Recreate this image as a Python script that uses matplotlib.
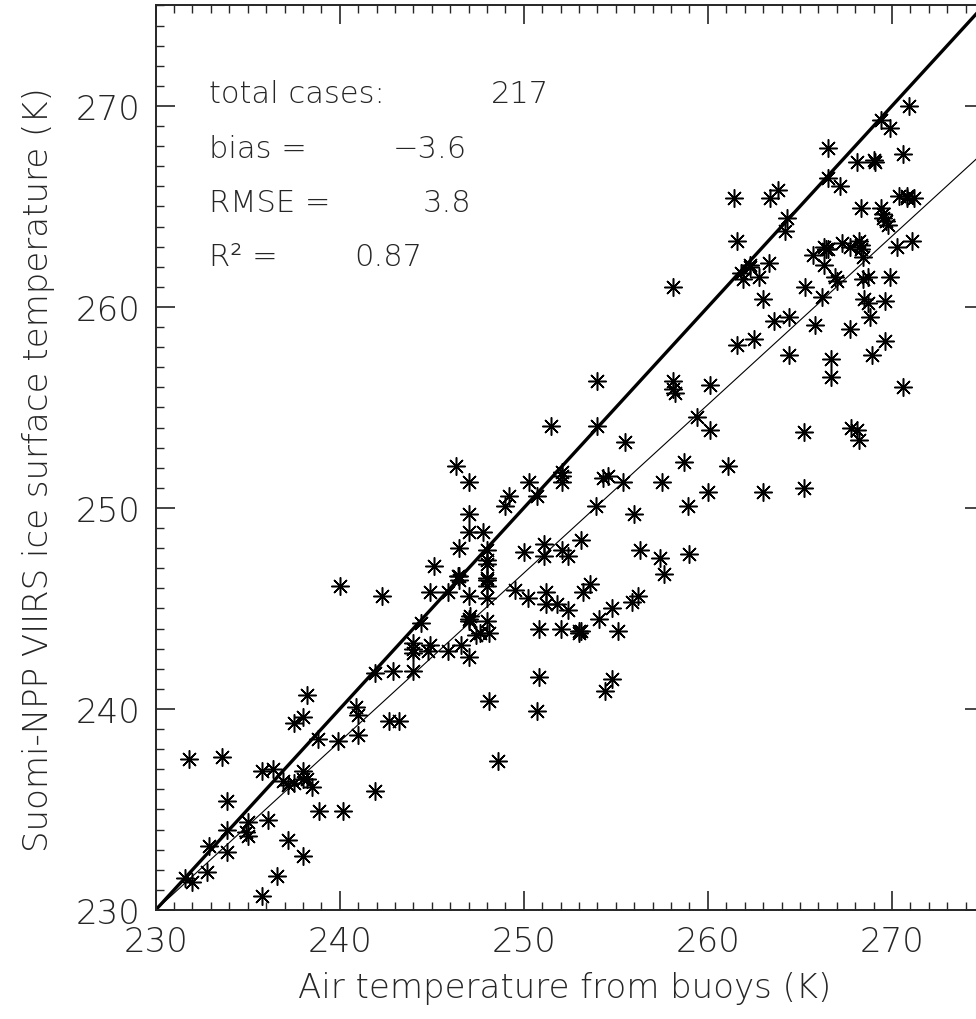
import numpy as np
import matplotlib
matplotlib.use("Agg")
import matplotlib.pyplot as plt
from matplotlib.ticker import MultipleLocator

# buoy air temperature (K) vs Suomi-NPP VIIRS ice surface temperature (K)
air_temp = [
    231.6, 232.0, 231.8, 232.8, 232.9, 233.6, 233.9, 233.9, 233.9, 234.9,
    235.0, 235.0, 235.8, 235.8, 236.1, 236.4, 236.6, 236.9, 237.2, 237.2,
    237.5, 237.5, 238.0, 238.0, 238.0, 238.0, 238.2, 238.2, 238.5, 238.8,
    238.9, 239.9, 240.0, 240.2, 240.9, 241.0, 241.0, 241.9, 241.9, 242.3,
    242.7, 242.9, 243.2, 244.0, 244.0, 244.0, 244.4, 244.8, 244.9, 244.9,
    245.1, 245.9, 245.9, 246.3, 246.4, 246.5, 246.5, 246.6, 247.0, 247.0,
    247.0, 247.0, 247.0, 247.0, 247.1, 247.4, 247.8, 247.6, 248.1, 248.0,
    248.0, 248.0, 248.0, 248.0, 248.0, 248.1, 249.0, 249.2, 250.7, 250.3,
    248.6, 249.5, 250.0, 250.2, 250.7, 250.8, 250.8, 251.1, 251.1, 251.2,
    251.2, 251.5, 251.8, 252.0, 252.1, 252.1, 252.1, 252.1, 252.4, 252.4,
    253.0, 253.1, 253.1, 253.2, 253.6, 253.9, 254.0, 254.0, 254.1, 254.3,
    254.6, 254.4, 254.8, 254.8, 255.1, 255.4, 255.5, 255.9, 256.2, 256.0,
    256.3, 257.4, 257.6, 257.5, 258.1, 258.1, 258.1, 258.2, 258.7, 258.9,
    259.0, 259.4, 260.0, 260.1, 260.1, 261.1, 261.4, 261.6, 261.6, 261.8,
    261.9, 262.3, 262.5, 262.8, 263.0, 263.0, 263.3, 263.4, 263.8, 263.6,
    264.3, 264.2, 264.4, 264.4, 265.2, 265.2, 265.3, 265.7, 265.8, 266.2,
    266.3, 266.5, 266.3, 266.5, 266.5, 267.2, 266.7, 266.7, 266.9, 267.0,
    267.3, 267.7, 268.2, 267.7, 267.8, 268.1, 268.2, 268.1, 268.3, 268.3,
    268.4, 268.4, 268.7, 268.5, 268.7, 268.8, 269.0, 269.1, 268.9, 269.4,
    269.4, 269.5, 269.7, 269.8, 269.6, 269.6, 269.9, 269.9, 270.3, 270.4,
    270.6, 270.6, 270.8, 270.9, 271.1, 271.2,
    246.5, 248.0, 248.0, 244.0, 247.0, 253.0, 266.4, 268.3, 269.5, 270.8,
    262.3,
]
viirs_ist = [
    231.6, 231.4, 237.5, 231.9, 233.2, 237.6, 234.0, 232.9, 235.4, 233.9,
    233.7, 234.4, 230.7, 236.9, 234.5, 237.0, 231.7, 236.4, 236.2, 233.5,
    236.3, 239.3, 239.6, 236.9, 236.5, 232.7, 240.7, 236.5, 236.1, 238.5,
    234.9, 238.4, 246.1, 234.9, 240.1, 239.7, 238.7, 241.8, 235.9, 245.6,
    239.4, 241.9, 239.4, 243.3, 242.8, 241.9, 244.3, 242.9, 243.2, 245.8,
    247.1, 245.8, 242.9, 252.1, 246.6, 246.4, 248.0, 243.2, 251.3, 249.7,
    248.8, 245.6, 244.4, 242.6, 244.6, 243.7, 248.8, 243.8, 243.8, 246.5,
    246.1, 247.2, 247.9, 245.5, 244.4, 240.4, 250.1, 250.6, 250.6, 251.3,
    237.4, 245.9, 247.8, 245.5, 239.9, 241.6, 244.0, 248.2, 247.6, 245.8,
    245.2, 254.1, 245.2, 244.0, 251.8, 251.6, 251.3, 247.9, 247.6, 244.9,
    243.8, 243.9, 248.4, 245.8, 246.2, 250.1, 256.3, 254.1, 244.5, 251.5,
    251.6, 240.9, 241.5, 245.0, 243.9, 251.3, 253.3, 245.3, 245.6, 249.7,
    247.9, 247.5, 246.7, 251.3, 261.0, 256.3, 255.9, 255.7, 252.3, 250.1,
    247.7, 254.5, 250.8, 256.1, 253.9, 252.1, 265.4, 258.1, 263.3, 261.7,
    261.4, 262.1, 258.4, 261.5, 260.4, 250.8, 262.2, 265.4, 265.8, 259.3,
    264.4, 263.8, 259.5, 257.6, 253.8, 251.0, 261.0, 262.6, 259.1, 260.5,
    263.0, 262.9, 262.1, 267.9, 266.4, 266.0, 257.4, 256.5, 261.5, 261.3,
    263.2, 263.0, 263.3, 258.9, 254.0, 253.9, 253.4, 267.2, 264.9, 262.9,
    262.5, 261.4, 261.5, 260.4, 260.2, 259.5, 267.3, 267.2, 257.6, 269.3,
    264.9, 264.6, 264.3, 264.1, 260.3, 258.3, 268.9, 261.5, 263.0, 265.5,
    267.6, 256.0, 265.4, 270.0, 263.3, 265.4,
    246.6, 246.4, 247.4, 243.0, 244.5, 243.9, 262.9, 263.1, 264.4, 265.5,
    262.0,
]

axis_range = [230, 275]
fit_slope = 0.838
fit_offset = 230.0   # fitted value at x = 230

n_cases = 217
bias = -3.6
rmse = 3.8
r2 = 0.87

plt.rcParams['font.family'] = ['DejaVu Sans']
plt.rcParams['font.weight'] = 'light'
ink = '#262626'

fig = plt.figure(figsize=(9.76, 10.2), dpi=100)
ax = fig.add_axes([0.1595, 0.1069, 0.8487, 0.8868])

ax.plot(air_temp, viirs_ist, linestyle='none', marker=(8, 2, 0),
        markersize=13, markeredgewidth=1.1, color='black')

ax.plot(axis_range, axis_range, color='black', lw=2.4)
fit_x = np.array(axis_range, dtype=float)
ax.plot(fit_x, fit_offset + fit_slope * (fit_x - axis_range[0]),
        color='black', lw=0.8)

ax.set_xlim(axis_range)
ax.set_ylim(axis_range)
ax.xaxis.set_major_locator(MultipleLocator(10))
ax.yaxis.set_major_locator(MultipleLocator(10))
ax.xaxis.set_minor_locator(MultipleLocator(1))
ax.yaxis.set_minor_locator(MultipleLocator(1))
ax.tick_params(which='both', direction='in', top=True, right=True,
               colors=ink, labelcolor=ink)
ax.tick_params(which='major', length=14, width=1.2, pad=11, labelsize=24.5)
ax.tick_params(which='minor', length=6, width=1.0)
for sp in ax.spines.values():
    sp.set_linewidth(1.4)
    sp.set_color(ink)

ax.set_xlabel('Air temperature from buoys (K)', fontsize=24.5, color=ink,
              fontweight='light')
ax.set_ylabel('Suomi-NPP VIIRS ice surface temperature (K)', fontsize=24.5,
              color=ink, fontweight='light')
ax.xaxis.set_label_coords(0.494, -0.067)
ax.yaxis.set_label_coords(-0.122, 0.488)

stats = [
    ('total cases:', f'{n_cases}', 270.6, 248.2),
    ('bias =', f'\u2212{abs(bias):.1f}', 267.9, 242.9),
    ('RMSE =', f'{rmse:.1f}', 265.2, 244.5),
    ('R\u00b2 =', f'{r2:.2f}', 262.5, 240.8),
]
for label, value, ypos, xval in stats:
    ax.text(232.9, ypos, label, fontsize=22, color=ink, va='center',
            ha='left', fontweight='light')
    ax.text(xval, ypos, value, fontsize=22, color=ink, va='center',
            ha='left', fontweight='light')

fig.savefig('out.png', dpi=100)
